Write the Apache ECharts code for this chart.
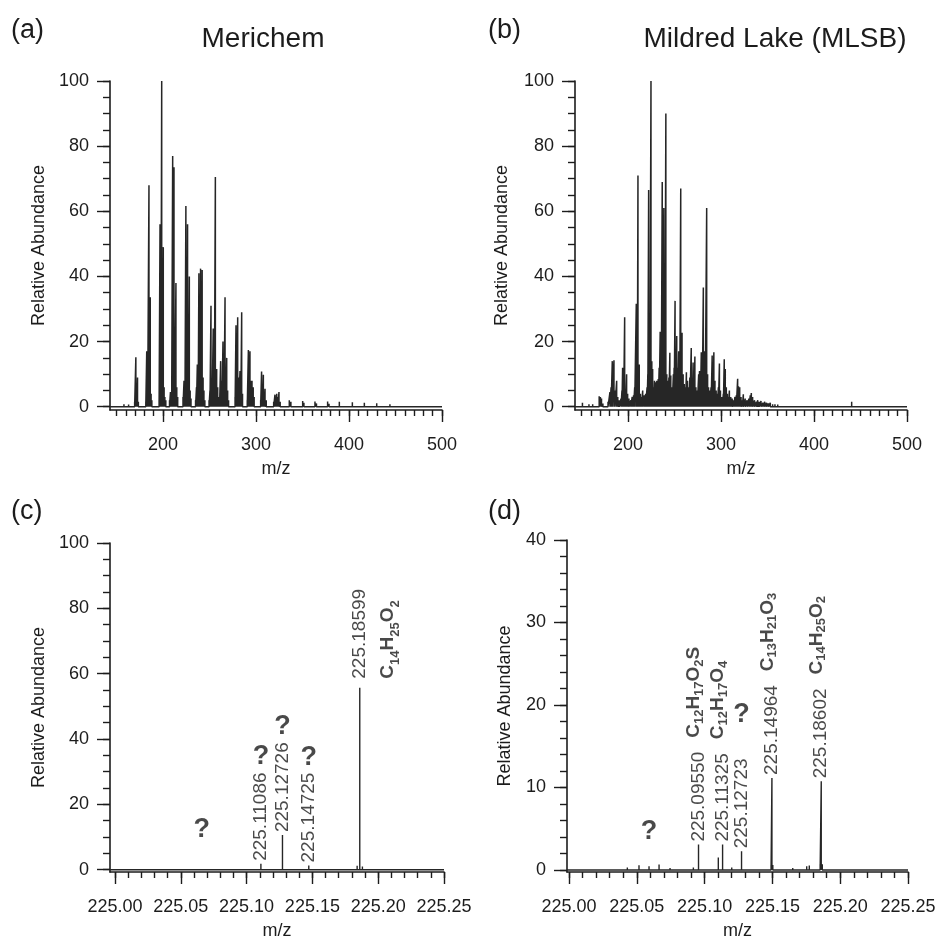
<!DOCTYPE html>
<html>
<head>
<meta charset="utf-8">
<title>Naphthenic acid mass spectra</title>
<script src="https://cdn.jsdelivr.net/npm/echarts@6/dist/echarts.min.js"></script>
<style>
  html, body { margin: 0; padding: 0; background: #fff; }
  #chart { width: 939px; height: 943px; }
</style>
</head>
<body>
<div id="chart"></div>
<script>
// ---- Spectra: [m/z, relative abundance (%)] ----
const peaksMerichem = [
  [150, 0.5], [158, 0.8], [163, 0.7],
  [169.5, 1.5], [170.8, 15.2], [171.8, 2.5], [172.6, 9.0], [173.5, 1.5],
  [181.5, 1.5], [182.5, 17], [183.5, 3], [184.9, 68], [185.6, 5], [186.3, 33.6], [187.2, 4], [188, 2],
  [195.8, 2], [196.8, 56], [197.7, 4], [198.6, 100], [199.4, 8], [200.3, 49], [201.2, 6], [202, 3], [203, 2],
  [207, 2], [208.0, 4.5], [209.3, 3], [210.4, 77], [211.1, 8.5], [211.8, 73.5], [212.6, 8], [213.9, 38], [214.8, 6], [215.8, 3],
  [221.5, 3], [222.6, 8], [223.6, 5], [224.6, 61.6], [225.5, 9], [226.4, 56], [227.4, 8], [228.3, 40], [229.2, 5], [230.1, 2.5],
  [235.0, 2], [236.0, 6], [236.9, 13], [237.8, 9], [238.6, 41], [239.5, 28], [240.4, 42.4], [241.3, 15], [242.1, 42], [243.1, 9], [244, 5], [245, 2],
  [249.5, 2], [250.5, 5], [251.6, 31], [252.8, 8], [254.0, 24], [255.2, 9], [256.3, 70.5], [257.7, 11.6], [258.8, 6], [259.6, 3],
  [260.8, 3], [262, 14], [263.3, 8], [264.5, 20], [265.6, 11], [266.7, 33.6], [267.6, 9], [268.5, 15], [269.5, 5], [270.5, 2],
  [277.5, 3], [278.5, 25], [279.4, 7], [280.3, 27.5], [281.4, 9], [282.8, 11], [283.7, 6], [284.6, 29], [285.5, 4],
  [290.6, 2], [291.8, 17.4], [292.7, 7], [293.5, 17], [294.6, 8], [295.7, 8], [297, 6], [298, 3],
  [305, 2], [306, 10.8], [307, 5], [307.9, 9.8], [308.8, 4], [309.7, 5.5], [311, 2],
  [319, 1.5], [320.4, 3.7], [321.3, 2.5], [322.3, 4], [323.5, 3], [324.7, 4.5], [326, 1.5],
  [335.8, 2], [337.5, 1.5], [350.2, 1.8], [351.5, 1.2], [363.4, 1.6], [365, 1.0], [377, 1.6], [378.5, 0.9],
  [389.6, 1.5], [403.6, 1.4], [416.5, 1.2], [429.8, 1.1], [444, 0.8], [457, 0.6], [470, 0.5]
];

const peaksMLSB = [
  [151, 1.2], [158, 0.8], [162, 0.8],
  [169, 3.2], [170.3, 3.0], [171.5, 2.5], [173, 1],
  [178.5, 1.5], [180.6, 4.5], [181.8, 6], [183.1, 14], [184.9, 14.3], [186, 5], [187.8, 8], [189, 3], [190.5, 2],
  [192.5, 2.5], [193.5, 5], [194.2, 12], [195.3, 7], [196.4, 27.5], [197.5, 5], [198.5, 10], [199.6, 4], [201, 2.5],
  [203, 2], [204.5, 3], [206, 3.5], [207.2, 6], [208.9, 31.6], [210.0, 8], [210.7, 71], [212.1, 13], [213.3, 4], [214.5, 3], [215.8, 5],
  [217.5, 3.5], [219, 4], [220.5, 6], [221.3, 10], [222.2, 66.5], [223.5, 9], [224.7, 100], [225.6, 14], [226.5, 11.6], [227.5, 6],
  [228.5, 8], [229.5, 7.5], [231, 8], [232.5, 8.5], [233.5, 12],
  [234.6, 23], [235.7, 14], [236.8, 69], [237.6, 30], [238.5, 61], [239.6, 20], [240.7, 90], [241.7, 10], [242.8, 8],
  [244, 9], [245, 16.6], [246, 9.6], [247.5, 6], [248.8, 10], [249.6, 12],
  [250.6, 32.5], [251.5, 15], [252.4, 21.7], [253.4, 12], [254.5, 17], [255.6, 9], [256.7, 67], [257.4, 20], [258.1, 22.7],
  [259.3, 10], [260.5, 7], [261.8, 6], [262.8, 10.6], [264, 8], [265.5, 6], [266.5, 9],
  [268, 18], [269, 8], [270, 13.6], [271, 6], [271.9, 15.4], [273, 6], [274.5, 5], [276, 10], [276.9, 11], [277.8, 7],
  [278.8, 16.7], [279.8, 12], [281, 36.6], [282, 17], [283, 10], [284.6, 61], [285.6, 10], [286.6, 6], [287.8, 5],
  [289.3, 6], [290.5, 15.7], [291.4, 8], [292.3, 16.7], [293.5, 8], [294.8, 5], [296, 4], [297.2, 6], [298.3, 13.3],
  [299.4, 5], [300.5, 3], [301.5, 3], [302.5, 4], [303.5, 14.6], [304.6, 11.6], [305.7, 6], [306.8, 4], [308, 3],
  [309, 5], [310.5, 3], [312, 2.5],
  [313.5, 2], [315, 3], [316.5, 3.5], [317.9, 8.6], [318.8, 6.3], [320.1, 6], [321.5, 3], [323, 2], [324, 3.8],
  [326, 2.5], [328, 2], [330, 2.5], [331.5, 3.5], [332.6, 4.2], [334, 3], [336, 2],
  [338, 1.5], [339.5, 2], [341, 1.5], [343, 1.8], [345, 1.2], [347, 1.5], [349, 1.2], [351, 1], [353, 1.2],
  [355.5, 0.8], [358, 0.8], [361, 0.7], [365, 0.6], [370, 0.5], [375, 0.5], [385, 0.4], [440.5, 1.5], [460, 0.3]
];

const peaksMerichemZoom = [
  [225.0300, 0.2], [225.0659, 0.6], [225.0900, 0.2],
  [225.11086, 1.8], [225.12726, 10.6], [225.14725, 1.3],
  [225.1650, 0.2], [225.1840, 1.2], [225.18599, 55.7], [225.1880, 1.0], [225.2200, 0.2]
];

const peaksMLSBZoom = [
  [225.0200, 0.2], [225.0350, 0.2], [225.0430, 0.3], [225.0516, 0.57], [225.0590, 0.45], [225.0664, 0.65],
  [225.0745, 0.25], [225.0820, 0.2], [225.0917, 0.3], [225.09550, 3.07], [225.1101, 1.5], [225.11325, 3.07],
  [225.1200, 0.3], [225.12723, 2.26], [225.1380, 0.2], [225.1490, 0.6], [225.14964, 11.15], [225.1503, 0.6],
  [225.1650, 0.25], [225.1753, 0.45], [225.1772, 0.55], [225.1852, 0.7], [225.18602, 10.75], [225.1868, 0.7],
  [225.1950, 0.2], [225.2100, 0.2], [225.2300, 0.2], [225.2450, 0.15]
];

// ---- Peak annotations (m/z of an annotated peak, assigned formula, unassigned "?") ----
const notesMerichemZoom = [
  { mz: 225.0659, unknown: true, mass: false },
  { mz: 225.11086, unknown: true },
  { mz: 225.12726, unknown: true },
  { mz: 225.14725, unknown: true },
  { mz: 225.18599, formula: 'C14H25O2' }
];
const notesMLSBZoom = [
  { mz: 225.0590, unknown: true, mass: false },
  { mz: 225.09550, formula: 'C12H17O2S' },
  { mz: 225.11325, formula: 'C12H17O4' },
  { mz: 225.12723, unknown: true },
  { mz: 225.14964, formula: 'C13H21O3' },
  { mz: 225.18602, formula: 'C14H25O2' }
];

// ---- Text and tick values ----
const panelTags = ['(a)', '(b)', '(c)', '(d)'];
const panelTitles = ['Merichem', 'Mildred Lake (MLSB)'];
const yName = 'Relative Abundance';
const xName = 'm/z';
const fullXLabels = [200, 300, 400, 500];
const zoomXLabels = [225.00, 225.05, 225.10, 225.15, 225.20, 225.25];
const pctYLabels = [0, 20, 40, 60, 80, 100];
const lowYLabels = [0, 10, 20, 30, 40];

// ---- Styling ----
const FONT = '"Liberation Sans", Arial, Helvetica, sans-serif';
const INK = '#1c1c1c';
const LINE = '#262626';
const MASS_SIZE = 19;
const FORMULA_SIZE = 19;
const SUB_SIZE = 13;
const Q_SIZE = 27;
const LABEL_GAP = 3;
const STACK_GAP = 9;

function steps(from, to, step, digits) {
  const out = [];
  const n = Math.round((to - from) / step);
  for (let i = 0; i <= n; i++) out.push(+(from + i * step).toFixed(digits));
  return out;
}

function sticks(peaks, lo, hi) {
  const sorted = peaks.slice().sort((p, q) => p[0] - q[0]);
  const pts = [[lo, 0]];
  sorted.forEach(([x, y]) => { pts.push([x, 0], [x, y], [x, 0]); });
  pts.push([hi, 0]);
  return pts;
}

const measureCtx = document.createElement('canvas').getContext('2d');
function textWidth(str, size, weight) {
  measureCtx.font = (weight || 'normal') + ' ' + size + 'px ' + FONT;
  return measureCtx.measureText(str).width;
}
function formulaParts(f) {
  const parts = [];
  f.replace(/([A-Z][a-z]?)(\d*)/g, (m, el, n) => { parts.push([el, n]); return m; });
  return parts;
}
// main/sub style names: 'f'/'s' for a formula on its own line, 'fi'/'si' when it follows the mass
function richFormula(f, main, sub) {
  return formulaParts(f).map(([el, n]) => '{' + main + '|' + el + '}' + (n ? '{' + sub + '|' + n + '}' : '')).join('');
}
function formulaWidth(f) {
  return formulaParts(f).reduce((w, [el, n]) =>
    w + textWidth(el, FORMULA_SIZE, 'bold') + (n ? textWidth(n, SUB_SIZE, 'bold') : 0), 0);
}

const axisLineStyle = { color: INK, width: 1.6 };
const tickStyle = { color: INK, width: 1.4 };
const labelText = { color: INK, fontSize: 18, fontFamily: FONT };

// geometry of the four panels
const panels = [
  { left: 110, top: 81, width: 332, height: 329, xmin: 143, xmax: 500, ymin: -1, ymax: 100,
    xl: fullXLabels, xm: steps(150, 500, 10, 0), xd: 0, yl: pctYLabels, ym: steps(0, 100, 5, 0), yGap: 62 },
  { left: 575, top: 81, width: 332, height: 329, xmin: 143, xmax: 500, ymin: -1, ymax: 100,
    xl: fullXLabels, xm: steps(150, 500, 10, 0), xd: 0, yl: pctYLabels, ym: steps(0, 100, 5, 0), yGap: 64 },
  { left: 110, top: 543, width: 334, height: 329, xmin: 224.9962, xmax: 225.25, ymin: -0.7, ymax: 100,
    xl: zoomXLabels, xm: steps(225, 225.25, 0.01, 2), xd: 2, yl: pctYLabels, ym: steps(0, 100, 5, 0), yGap: 62 },
  { left: 567, top: 540, width: 341, height: 332, xmin: 224.9985, xmax: 225.25, ymin: -0.25, ymax: 40,
    xl: zoomXLabels, xm: steps(225, 225.25, 0.01, 2), xd: 2, yl: lowYLabels, ym: steps(0, 40, 2, 0), yGap: 53 }
];

const grids = [], xAxes = [], yAxes = [];
panels.forEach((p, g) => {
  grids.push({ left: p.left, top: p.top, width: p.width, height: p.height,
               containLabel: false, outerBoundsMode: 'none' });
  xAxes.push({
    gridIndex: g, type: 'value', min: p.xmin, max: p.xmax, position: 'bottom',
    name: xName, nameLocation: 'middle', nameGap: 50, nameTextStyle: labelText,
    axisLine: { show: true, onZero: false, lineStyle: axisLineStyle },
    axisTick: { show: true, customValues: p.xl, length: 12, lineStyle: tickStyle },
    axisLabel: { show: true, customValues: p.xl, margin: 26, formatter: v => Number(v).toFixed(p.xd), ...labelText },
    splitLine: { show: false }
  });
  xAxes.push({
    gridIndex: g, type: 'value', min: p.xmin, max: p.xmax, position: 'bottom',
    axisLine: { show: false, onZero: false },
    axisTick: { show: true, customValues: p.xm, length: 6, lineStyle: tickStyle },
    axisLabel: { show: false }, splitLine: { show: false }
  });
  yAxes.push({
    gridIndex: g, type: 'value', min: p.ymin, max: p.ymax, position: 'left',
    name: yName, nameLocation: 'middle', nameGap: p.yGap, nameTextStyle: labelText,
    axisLine: { show: true, onZero: false, lineStyle: axisLineStyle },
    axisTick: { show: true, customValues: p.yl, length: 13, lineStyle: tickStyle },
    axisLabel: { show: true, customValues: p.yl, margin: 21, ...labelText },
    splitLine: { show: false }
  });
  yAxes.push({
    gridIndex: g, type: 'value', min: p.ymin, max: p.ymax, position: 'left',
    axisLine: { show: false, onZero: false },
    axisTick: { show: true, customValues: p.ym, length: 7, lineStyle: tickStyle },
    axisLabel: { show: false }, splitLine: { show: false }
  });
});

const spectra = [peaksMerichem, peaksMLSB, peaksMerichemZoom, peaksMLSBZoom];
const series = spectra.map((pk, g) => ({
  type: 'line', xAxisIndex: 2 * g, yAxisIndex: 2 * g,
  data: sticks(pk, panels[g].xmin, panels[g].xmax),
  showSymbol: false, symbol: 'none', silent: true, animation: false,
  lineStyle: { color: LINE, width: g < 2 ? 1.5 : 1.4 }
}));

const richStyles = {
  n: { fontSize: MASS_SIZE, fontFamily: FONT, color: INK, lineHeight: 28 },
  f: { fontSize: FORMULA_SIZE, fontFamily: FONT, fontWeight: 'bold', color: INK, lineHeight: 28 },
  s: { fontSize: SUB_SIZE, fontFamily: FONT, fontWeight: 'bold', color: INK, lineHeight: 13, verticalAlign: 'bottom' },
  fi: { fontSize: FORMULA_SIZE, fontFamily: FONT, fontWeight: 'bold', color: INK, lineHeight: 18, verticalAlign: 'top' },
  si: { fontSize: SUB_SIZE, fontFamily: FONT, fontWeight: 'bold', color: INK, lineHeight: 13, verticalAlign: 'top', padding: [8, 0, 0, 0] },
  sp: { width: 14 }
};

// layout 'stack': formula on a second line beside the mass; 'inline': formula after the mass
function noteSeries(g, peaks, notes, layout, qGap, loneLift) {
  const massData = [], qData = [];
  notes.forEach(n => {
    const pk = peaks.find(p => Math.abs(p[0] - n.mz) < 1e-7);
    const top = pk[1];
    let len = 0;
    if (n.mass !== false) {
      const mass = n.mz.toFixed(5);
      let txt = '{n|' + mass + '}';
      len = textWidth(mass, MASS_SIZE);
      let stacked = false;
      if (n.formula) {
        if (layout === 'stack') { txt += '\n' + richFormula(n.formula, 'f', 's'); stacked = true; }
        else { txt += '{sp| }' + richFormula(n.formula, 'fi', 'si'); len += 14 + formulaWidth(n.formula); }
      }
      massData.push({
        name: txt, value: [n.mz, top],
        label: stacked ? { verticalAlign: 'top', offset: [STACK_GAP, -14] }
                       : { verticalAlign: 'middle', offset: [LABEL_GAP, 0] }
      });
    }
    if (n.unknown) {
      const lift = len ? LABEL_GAP + len + qGap : loneLift;
      qData.push({ name: '?', value: [n.mz, top], label: { offset: [0, -lift] } });
    }
  });
  return [
    {
      type: 'scatter', xAxisIndex: 2 * g, yAxisIndex: 2 * g, data: massData,
      symbolSize: 0, itemStyle: { color: 'transparent' }, silent: true, animation: false, z: 5,
      label: {
        show: true, position: 'inside', rotate: 90, align: 'left', color: INK,
        textBorderWidth: 0, formatter: p => p.name, rich: richStyles
      }
    },
    {
      type: 'scatter', xAxisIndex: 2 * g, yAxisIndex: 2 * g, data: qData,
      symbolSize: 0, itemStyle: { color: 'transparent' }, silent: true, animation: false, z: 5,
      label: {
        show: true, position: 'inside', align: 'center', verticalAlign: 'bottom', color: INK,
        textBorderWidth: 0, fontFamily: FONT, fontWeight: 'bold', fontSize: Q_SIZE,
        formatter: p => p.name
      }
    }
  ];
}

series.push(...noteSeries(2, peaksMerichemZoom, notesMerichemZoom, 'stack', 2, 25));
series.push(...noteSeries(3, peaksMLSBZoom, notesMLSBZoom, 'inline', 30, 21));

const tagStyle = { fontSize: 27, fontFamily: FONT, fill: INK };
const titleStyle = { fontSize: 28, fontFamily: FONT, fill: INK };
const graphics = [
  { type: 'text', x: 11, y: 31, style: { text: panelTags[0], textVerticalAlign: 'middle', ...tagStyle } },
  { type: 'text', x: 488, y: 31, style: { text: panelTags[1], textVerticalAlign: 'middle', ...tagStyle } },
  { type: 'text', x: 11, y: 512, style: { text: panelTags[2], textVerticalAlign: 'middle', ...tagStyle } },
  { type: 'text', x: 488, y: 512, style: { text: panelTags[3], textVerticalAlign: 'middle', ...tagStyle } },
  { type: 'text', x: 263, y: 39, style: { text: panelTitles[0], textAlign: 'center', textVerticalAlign: 'middle', ...titleStyle } },
  { type: 'text', x: 775, y: 39, style: { text: panelTitles[1], textAlign: 'center', textVerticalAlign: 'middle', ...titleStyle } }
];

const chart = echarts.init(document.getElementById('chart'), null, { renderer: 'canvas' });
chart.setOption({
  backgroundColor: '#ffffff',
  animation: false,
  grid: grids,
  xAxis: xAxes,
  yAxis: yAxes,
  series: series,
  graphic: graphics
});
</script>
</body>
</html>
